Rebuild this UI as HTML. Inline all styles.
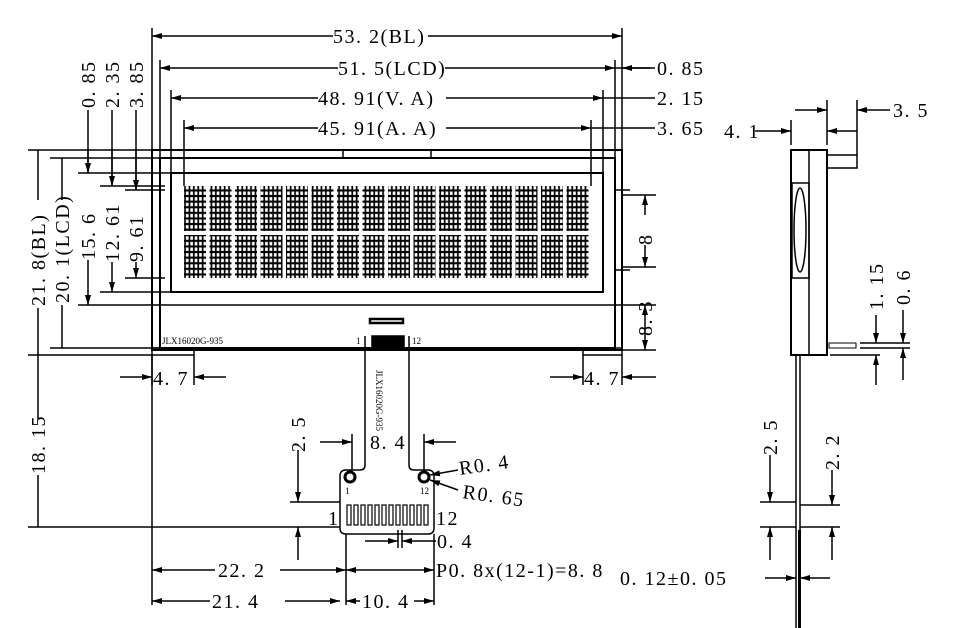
<!DOCTYPE html>
<html><head><meta charset="utf-8"><style>
html,body{margin:0;padding:0;background:#fff;}
svg{display:block;}
text{font-family:"Liberation Serif","Noto Serif CJK SC",serif;font-size:20px;letter-spacing:1.5px;fill:#000;}
.s{font-size:9px;letter-spacing:0;}
</style></head><body>
<svg width="954" height="628" viewBox="0 0 954 628" xmlns="http://www.w3.org/2000/svg">
<defs>
<marker id="a" viewBox="0 0 10 6" refX="10" refY="3" markerWidth="10" markerHeight="6" orient="auto-start-reverse" markerUnits="userSpaceOnUse"><path d="M0,0 L10,3 L0,6z"/></marker>
<pattern id="ch" width="4.4" height="5.6" patternUnits="userSpaceOnUse"><rect width="4.4" height="5.6" fill="#000"/><rect x="1.1" y="1.1" width="2.7" height="3.5" fill="#fff"/></pattern>
</defs>
<g stroke="#000" fill="none" stroke-width="1.5">
<line x1="152" y1="28" x2="152" y2="150"/><line x1="622" y1="28" x2="622" y2="150"/>
<line x1="160" y1="60" x2="160" y2="158"/><line x1="615" y1="60" x2="615" y2="158"/>
<line x1="171" y1="90" x2="171" y2="173"/><line x1="603" y1="90" x2="603" y2="173"/>
<line x1="184" y1="120" x2="184" y2="186"/><line x1="591" y1="120" x2="591" y2="186"/>
<line x1="152" y1="36" x2="333" y2="36" marker-start="url(#a)"/><line x1="428" y1="36" x2="622" y2="36" marker-end="url(#a)"/>
<line x1="160" y1="68" x2="338" y2="68" marker-start="url(#a)"/><line x1="445" y1="68" x2="615" y2="68" marker-end="url(#a)"/>
<line x1="615" y1="68" x2="655" y2="68"/>
<line x1="171" y1="98" x2="318" y2="98" marker-start="url(#a)"/><line x1="446" y1="98" x2="603" y2="98" marker-end="url(#a)"/>
<line x1="603" y1="98" x2="655" y2="98"/>
<line x1="184" y1="128" x2="318" y2="128" marker-start="url(#a)"/><line x1="446" y1="128" x2="591" y2="128" marker-end="url(#a)"/>
<line x1="591" y1="128" x2="655" y2="128"/>
<line x1="650" y1="68" x2="622" y2="68" marker-end="url(#a)"/>
<rect x="152" y="150" width="470" height="200" stroke-width="2"/>
<rect x="160" y="158" width="455" height="190" stroke-width="2"/>
<line x1="160" y1="305" x2="615" y2="305"/>
<rect x="171" y="173" width="432" height="119" stroke-width="2"/>
<line x1="343" y1="150" x2="343" y2="157"/><line x1="431" y1="150" x2="431" y2="157"/>
<rect x="152" y="348" width="42" height="7"/><rect x="583" y="348" width="39" height="7"/>
<line x1="615" y1="190" x2="630" y2="190"/><line x1="615" y1="270" x2="630" y2="270"/>
<line x1="622" y1="195" x2="656" y2="195"/><line x1="622" y1="267" x2="656" y2="267"/>
<line x1="615" y1="305" x2="656" y2="305"/><line x1="622" y1="350" x2="656" y2="350"/>
<line x1="645" y1="195" x2="645" y2="215" marker-start="url(#a)"/><line x1="645" y1="245" x2="645" y2="267" marker-end="url(#a)"/>
<line x1="645" y1="305" x2="645" y2="350" marker-start="url(#a)" marker-end="url(#a)"/>
<line x1="28" y1="150" x2="152" y2="150"/><line x1="28" y1="355" x2="152" y2="355"/>
<line x1="50" y1="158" x2="160" y2="158"/><line x1="50" y1="348" x2="160" y2="348"/>
<line x1="78" y1="173" x2="171" y2="173"/><line x1="78" y1="305" x2="160" y2="305"/>
<line x1="100" y1="186" x2="165" y2="186"/><line x1="100" y1="292" x2="171" y2="292"/>
<line x1="125" y1="190" x2="165" y2="190"/><line x1="125" y1="278" x2="165" y2="278"/>
<line x1="38" y1="150" x2="38" y2="200"/><line x1="38" y1="308" x2="38" y2="355"/>
<line x1="62" y1="158" x2="62" y2="200"/><line x1="62" y1="305" x2="62" y2="348"/>
<line x1="88" y1="110" x2="88" y2="173" marker-end="url(#a)"/><line x1="88" y1="260" x2="88" y2="305" marker-end="url(#a)"/>
<line x1="112" y1="110" x2="112" y2="186" marker-end="url(#a)"/><line x1="112" y1="262" x2="112" y2="292" marker-end="url(#a)"/>
<line x1="136" y1="110" x2="136" y2="190" marker-end="url(#a)"/><line x1="136" y1="262" x2="136" y2="278" marker-end="url(#a)"/>
<line x1="88" y1="150" x2="88" y2="173"/><line x1="112" y1="150" x2="112" y2="186"/><line x1="136" y1="150" x2="136" y2="190"/>
<line x1="38" y1="355" x2="38" y2="420"/><line x1="38" y1="475" x2="38" y2="527"/>
<line x1="28" y1="527" x2="340" y2="527"/>
<line x1="152" y1="355" x2="152" y2="385"/><line x1="194" y1="355" x2="194" y2="385"/>
<line x1="120" y1="377" x2="152" y2="377" marker-end="url(#a)"/><line x1="226" y1="377" x2="194" y2="377" marker-end="url(#a)"/>
<line x1="583" y1="355" x2="583" y2="385"/><line x1="622" y1="355" x2="622" y2="385"/>
<line x1="550" y1="377" x2="583" y2="377" marker-end="url(#a)"/><line x1="656" y1="377" x2="622" y2="377" marker-end="url(#a)"/>
<rect x="370" y="319" width="33" height="4" stroke-width="2.5"/>
<path d="M365,336 L365,465 Q365,470 360,470 L346,470 Q340,470 340,476 L340,528 Q340,534 346,534 L428,534 Q434,534 434,528 L434,476 Q434,470 428,470 L414,470 Q409,470 409,465 L409,336"/>
<rect x="372" y="336" width="32" height="12" fill="#000"/>
<circle cx="350" cy="477" r="5" stroke-width="3"/><circle cx="424" cy="477" r="5" stroke-width="3"/>
<line x1="352" y1="434" x2="352" y2="470"/><line x1="424" y1="434" x2="424" y2="470"/>
<line x1="320" y1="442" x2="352" y2="442" marker-end="url(#a)"/><line x1="456" y1="442" x2="424" y2="442" marker-end="url(#a)"/>
<line x1="458" y1="470" x2="430" y2="475" marker-end="url(#a)"/><line x1="458" y1="490" x2="430" y2="480" marker-end="url(#a)"/>
<line x1="290" y1="502" x2="340" y2="502"/>
<line x1="298" y1="450" x2="298" y2="502" marker-end="url(#a)"/><line x1="298" y1="560" x2="298" y2="527" marker-end="url(#a)"/>
<line x1="346" y1="534" x2="346" y2="605"/><line x1="434" y1="534" x2="434" y2="605"/><line x1="152" y1="355" x2="152" y2="605"/>
<line x1="398" y1="530" x2="398" y2="548"/><line x1="402" y1="530" x2="402" y2="548"/>
<line x1="365" y1="541" x2="398" y2="541" marker-end="url(#a)"/><line x1="436" y1="541" x2="402" y2="541" marker-end="url(#a)"/>
<line x1="152" y1="570" x2="215" y2="570" marker-start="url(#a)"/><line x1="280" y1="570" x2="346" y2="570" marker-end="url(#a)"/>
<line x1="346" y1="570" x2="434" y2="570" marker-start="url(#a)" marker-end="url(#a)"/>
<line x1="152" y1="601" x2="210" y2="601" marker-start="url(#a)"/><line x1="285" y1="601" x2="340" y2="601" marker-end="url(#a)"/>
<line x1="346" y1="601" x2="360" y2="601" marker-start="url(#a)"/><line x1="414" y1="601" x2="434" y2="601" marker-end="url(#a)"/>
<rect x="791" y="150" width="36" height="205" stroke-width="2"/>
<line x1="809" y1="150" x2="809" y2="355"/>
<rect x="792" y="183" width="17" height="95"/>
<ellipse cx="800" cy="230" rx="6" ry="42"/>
<path d="M827,155 L857,155 L857,168 L827,168"/>
<line x1="791" y1="120" x2="791" y2="145"/><line x1="827" y1="100" x2="827" y2="145"/><line x1="857" y1="100" x2="857" y2="155"/>
<line x1="755" y1="131" x2="791" y2="131" marker-end="url(#a)"/><line x1="857" y1="131" x2="827" y2="131" marker-end="url(#a)"/>
<line x1="795" y1="110" x2="827" y2="110" marker-end="url(#a)"/><line x1="890" y1="110" x2="857" y2="110" marker-end="url(#a)"/>
<rect x="829" y="343" width="27" height="5" stroke-width="1"/>
<line x1="860" y1="343" x2="910" y2="343"/><line x1="860" y1="348" x2="910" y2="348"/>
<line x1="830" y1="355" x2="880" y2="355"/>
<line x1="876" y1="315" x2="876" y2="343" marker-end="url(#a)"/><line x1="876" y1="385" x2="876" y2="355" marker-end="url(#a)"/>
<line x1="903" y1="310" x2="903" y2="343" marker-end="url(#a)"/><line x1="903" y1="380" x2="903" y2="348" marker-end="url(#a)"/>
<line x1="796" y1="355" x2="796" y2="628"/><line x1="800" y1="355" x2="800" y2="628"/>
<line x1="760" y1="502" x2="796" y2="502"/><line x1="760" y1="527" x2="796" y2="527"/>
<line x1="770" y1="455" x2="770" y2="502" marker-end="url(#a)"/><line x1="770" y1="560" x2="770" y2="527" marker-end="url(#a)"/>
<line x1="800" y1="505" x2="840" y2="505"/><line x1="800" y1="527" x2="840" y2="527"/>
<line x1="832" y1="470" x2="832" y2="505" marker-end="url(#a)"/><line x1="832" y1="560" x2="832" y2="527" marker-end="url(#a)"/>
<line x1="765" y1="578" x2="796" y2="578" marker-end="url(#a)"/><line x1="830" y1="578" x2="800" y2="578" marker-end="url(#a)"/>
</g>
<rect x="798" y="530" width="3" height="98" fill="#000"/>
<g fill="url(#ch)">
<rect x="184" y="186" width="22" height="45"/><rect x="209.5" y="186" width="22" height="45"/><rect x="235" y="186" width="22" height="45"/><rect x="260.5" y="186" width="22" height="45"/><rect x="286" y="186" width="22" height="45"/><rect x="311.5" y="186" width="22" height="45"/><rect x="337" y="186" width="22" height="45"/><rect x="362.5" y="186" width="22" height="45"/><rect x="388" y="186" width="22" height="45"/><rect x="413.5" y="186" width="22" height="45"/><rect x="439" y="186" width="22" height="45"/><rect x="464.5" y="186" width="22" height="45"/><rect x="490" y="186" width="22" height="45"/><rect x="515.5" y="186" width="22" height="45"/><rect x="541" y="186" width="22" height="45"/><rect x="566.5" y="186" width="22" height="45"/>
<rect x="184" y="235" width="22" height="43"/><rect x="209.5" y="235" width="22" height="43"/><rect x="235" y="235" width="22" height="43"/><rect x="260.5" y="235" width="22" height="43"/><rect x="286" y="235" width="22" height="43"/><rect x="311.5" y="235" width="22" height="43"/><rect x="337" y="235" width="22" height="43"/><rect x="362.5" y="235" width="22" height="43"/><rect x="388" y="235" width="22" height="43"/><rect x="413.5" y="235" width="22" height="43"/><rect x="439" y="235" width="22" height="43"/><rect x="464.5" y="235" width="22" height="43"/><rect x="490" y="235" width="22" height="43"/><rect x="515.5" y="235" width="22" height="43"/><rect x="541" y="235" width="22" height="43"/><rect x="566.5" y="235" width="22" height="43"/>
</g>
<g fill="#fff" stroke="#000" stroke-width="1.2">
<rect x="347" y="505" width="4" height="20"/><rect x="354" y="505" width="4" height="20"/><rect x="361" y="505" width="4" height="20"/><rect x="368" y="505" width="4" height="20"/><rect x="375" y="505" width="4" height="20"/><rect x="382" y="505" width="4" height="20"/><rect x="389" y="505" width="4" height="20"/><rect x="396" y="505" width="4" height="20"/><rect x="403" y="505" width="4" height="20"/><rect x="410" y="505" width="4" height="20"/><rect x="417" y="505" width="4" height="20"/><rect x="424" y="505" width="4" height="20"/>
</g>
<text x="333" y="43">53. 2(BL)</text>
<text x="338" y="75">51. 5(LCD)</text>
<text x="318" y="105">48. 91(V. A)</text>
<text x="318" y="135">45. 91(A. A)</text>
<text x="657" y="75">0. 85</text>
<text x="657" y="105">2. 15</text>
<text x="657" y="135">3. 65</text>
<g>
<text transform="translate(45,306) rotate(-90)">21. 8(BL)</text>
<text transform="translate(69,303) rotate(-90)">20. 1(LCD)</text>
<text transform="translate(95,260) rotate(-90)">15. 6</text>
<text transform="translate(119,262) rotate(-90)">12. 61</text>
<text transform="translate(143,262) rotate(-90)">9. 61</text>
<text transform="translate(95,108) rotate(-90)">0. 85</text>
<text transform="translate(119,108) rotate(-90)">2. 35</text>
<text transform="translate(143,108) rotate(-90)">3. 85</text>
<text transform="translate(45,474) rotate(-90)">18. 15</text>
<text transform="translate(652,245) rotate(-90)">8</text>
<text transform="translate(652,336) rotate(-90)">8. 3</text>
<text transform="translate(305,452) rotate(-90)">2. 5</text>
<text transform="translate(777,455) rotate(-90)">2. 5</text>
<text transform="translate(839,470) rotate(-90)">2. 2</text>
<text transform="translate(883,310) rotate(-90)">1. 15</text>
<text transform="translate(910,305) rotate(-90)">0. 6</text>
</g>
<text x="153" y="385">4. 7</text>
<text x="584" y="385">4. 7</text>
<text x="370" y="449">8. 4</text>
<text x="460" y="475" transform="rotate(-8 460 475)">R0. 4</text>
<text x="462" y="498" transform="rotate(8 462 498)">R0. 65</text>
<text x="328" y="525">1</text>
<text x="436" y="525">12</text>
<text x="437" y="548">0. 4</text>
<text x="218" y="577">22. 2</text>
<text x="436" y="577">P0. 8x(12-1)=8. 8</text>
<text x="212" y="608">21. 4</text>
<text x="362" y="608">10. 4</text>
<text x="724" y="138">4. 1</text>
<text x="893" y="117">3. 5</text>
<text x="620" y="585">0. 12±0. 05</text>
<text class="s" x="162" y="344">JLX16020G-935</text>
<text class="s" x="356" y="344">1</text>
<text class="s" x="412" y="344">12</text>
<text class="s" x="345" y="494">1</text>
<text class="s" x="420" y="494">12</text>
<text class="s" transform="translate(376,370) rotate(90)">JLX16020G-935</text>
</svg>
</body></html>
